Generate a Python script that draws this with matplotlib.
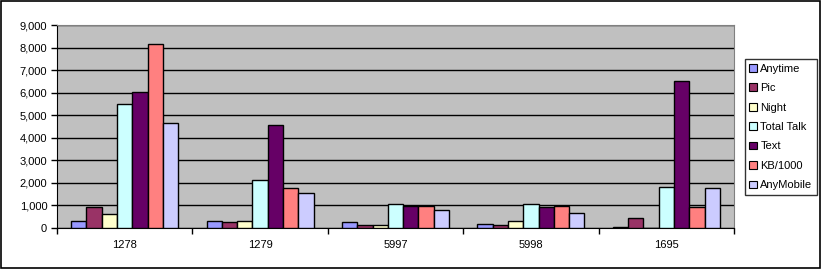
import numpy as np
from matplotlib import pyplot as plt
from matplotlib.patches import Rectangle
from matplotlib.ticker import FuncFormatter, MultipleLocator

plt.rcParams['font.family'] = ['Liberation Sans', 'DejaVu Sans']

# 数据
groups = ['1278', '1279', '5997', '5998', '1695']
series = ['Anytime', 'Pic', 'Night', 'Total Talk', 'Text', 'KB/1000', 'AnyMobile']
anytime = [320, 320, 235, 150, 30]
pic = [900, 235, 100, 100, 410]
night = [590, 295, 100, 295, 0]
total_talk = [5480, 2100, 1035, 1035, 1790]
text = [6010, 4540, 960, 920, 6510]
kb1000 = [8150, 1750, 960, 960, 900]
anymobile = [4630, 1520, 770, 635, 1750]
values = [anytime, pic, night, total_talk, text, kb1000, anymobile]
colors = ['#9999FF', '#993366', '#FFFFCC', '#CCFFFF', '#660066', '#FF8080', '#CCCCFF']

fig = plt.figure(dpi=100, figsize=(8.22, 2.69))
ax = fig.add_axes([0.0693, 0.1535, 0.8237, 0.7535])
ax.set_facecolor('#C0C0C0')

x = np.arange(len(groups))
w = 0.113
for i, (vals, c) in enumerate(zip(values, colors)):
    ax.bar(x + (i - 3) * w, vals, width=w, color=c, edgecolor='black',
           linewidth=1.0, label=series[i], zorder=3)

ax.set_xlim(-0.5, len(groups) - 0.5)
ax.set_ylim(0, 9000)
ax.yaxis.set_major_locator(MultipleLocator(1000))
ax.yaxis.set_major_formatter(FuncFormatter(lambda v, p: f'{int(v):,}'))
ax.grid(axis='y', color='black', linewidth=1.0, zorder=1)

# x轴刻度在类别之间
ax.set_xticks(np.arange(-0.5, len(groups)), minor=False)
ax.set_xticklabels([])
ax.set_xticks(x, minor=True)
ax.set_xticklabels(groups, minor=True)
ax.tick_params(axis='x', which='major', length=4, width=1, color='black', direction='out')
ax.tick_params(axis='x', which='minor', length=0, pad=9, labelsize=8)
ax.tick_params(axis='y', length=4, width=1, labelsize=8, pad=3)

for s in ['left', 'bottom']:
    ax.spines[s].set_color('black')
for s in ['top', 'right']:
    ax.spines[s].set_color('#808080')

handles = [Rectangle((0, 0), 1, 1, facecolor=c, edgecolor='black', linewidth=0.8) for c in colors]
leg = fig.legend(handles, series, loc='upper left', bbox_to_anchor=(0.906, 0.78),
                 fontsize=8, handlelength=0.7, handleheight=0.7, handletextpad=0.3,
                 labelspacing=0.85, borderpad=0.4, fancybox=False, frameon=True,
                 borderaxespad=0)
leg.get_frame().set_edgecolor('black')
leg.get_frame().set_linewidth(1.0)

# 外框
fig.patches.append(Rectangle((0.001, 0.004), 0.996, 0.993, transform=fig.transFigure,
                             fill=False, edgecolor='black', linewidth=1.2))

plt.savefig('out.png', dpi=100)
